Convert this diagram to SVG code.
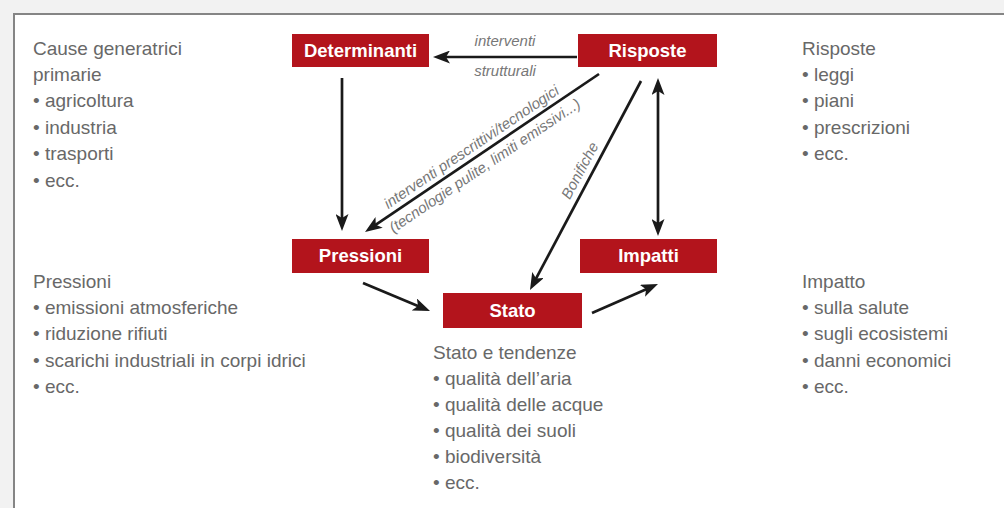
<svg xmlns="http://www.w3.org/2000/svg" width="1004" height="508" viewBox="0 0 1004 508">
<defs>
<style>
.box{fill:#b3141c}
.bl{font-family:"Liberation Sans",Arial,sans-serif;font-weight:bold;font-size:18.5px;fill:#fff;text-anchor:middle}
.tx{font-family:"Liberation Sans",Arial,sans-serif;font-size:19px;fill:#686868}
.lb{font-family:"Liberation Sans",Arial,sans-serif;font-style:italic;font-size:15px;fill:#777}
.ar{stroke:#1a1a1a;stroke-width:2.7;fill:none;marker-end:url(#ah)}
</style>
<marker id="ah" viewBox="0 0 17 13" refX="11" refY="6.5" markerWidth="17" markerHeight="13" markerUnits="userSpaceOnUse" orient="auto-start-reverse">
<path d="M0,0 L17,6.5 L0,13 L4,6.5 z" fill="#1a1a1a"/>
</marker>
</defs>
<rect x="0" y="0" width="1004" height="508" fill="#f2f2f2"/>
<rect x="14" y="14" width="1000" height="504" fill="#fff" stroke="#858585" stroke-width="2"/>

<g id="connectors">
<line class="ar" x1="577" y1="57" x2="439" y2="57"/>
<line class="ar" x1="342" y1="78" x2="342" y2="225"/>
<line class="ar" x1="599" y1="74" x2="370" y2="228.6"/>
<line class="ar" x1="641" y1="81" x2="532.8" y2="284.7"/>
<line class="ar" x1="658" y1="84" x2="658" y2="230" style="marker-start:url(#ah)"/>
<line class="ar" x1="363" y1="283" x2="424.5" y2="308.7"/>
<line class="ar" x1="592" y1="313" x2="652.5" y2="286.4"/>
<text class="lb" x="505" y="46" text-anchor="middle">interventi</text>
<text class="lb" x="505" y="76" text-anchor="middle">strutturali</text>
<g transform="translate(365,232) rotate(-34)">
<text class="lb" x="32" y="-6">interventi prescrittivi/tecnologici</text>
<text class="lb" x="23" y="17">(tecnologie pulite, limiti emissivi...)</text>
</g>
<g transform="translate(530,290) rotate(-62)">
<text class="lb" x="98" y="-7">Bonifiche</text>
</g>
</g>

<g id="determinanti">
<rect class="box" x="292" y="34" width="137" height="33"/>
<text class="bl" x="360.5" y="57">Determinanti</text>
</g>
<g id="risposte">
<rect class="box" x="578" y="34" width="139" height="33"/>
<text class="bl" x="647.5" y="57">Risposte</text>
</g>
<g id="pressioni">
<rect class="box" x="292" y="239" width="137" height="34"/>
<text class="bl" x="360.5" y="262">Pressioni</text>
</g>
<g id="impatti">
<rect class="box" x="580" y="239" width="137" height="34"/>
<text class="bl" x="648.5" y="262">Impatti</text>
</g>
<g id="stato">
<rect class="box" x="443" y="293" width="139" height="35"/>
<text class="bl" x="512.5" y="317">Stato</text>
</g>

<g id="cause-text">
<text class="tx" x="33" y="55">Cause generatrici</text>
<text class="tx" x="33" y="81">primarie</text>
<text class="tx" x="33" y="107">• agricoltura</text>
<text class="tx" x="33" y="134">• industria</text>
<text class="tx" x="33" y="160">• trasporti</text>
<text class="tx" x="33" y="187">• ecc.</text>
</g>
<g id="pressioni-text">
<text class="tx" x="33" y="288">Pressioni</text>
<text class="tx" x="33" y="314">• emissioni atmosferiche</text>
<text class="tx" x="33" y="340">• riduzione rifiuti</text>
<text class="tx" x="33" y="367">• scarichi industriali in corpi idrici</text>
<text class="tx" x="33" y="393">• ecc.</text>
</g>
<g id="risposte-text">
<text class="tx" x="802" y="55">Risposte</text>
<text class="tx" x="802" y="81">• leggi</text>
<text class="tx" x="802" y="107">• piani</text>
<text class="tx" x="802" y="134">• prescrizioni</text>
<text class="tx" x="802" y="160">• ecc.</text>
</g>
<g id="impatto-text">
<text class="tx" x="802" y="288">Impatto</text>
<text class="tx" x="802" y="314">• sulla salute</text>
<text class="tx" x="802" y="340">• sugli ecosistemi</text>
<text class="tx" x="802" y="367">• danni economici</text>
<text class="tx" x="802" y="393">• ecc.</text>
</g>
<g id="stato-text">
<text class="tx" x="433" y="359">Stato e tendenze</text>
<text class="tx" x="433" y="385">• qualità dell’aria</text>
<text class="tx" x="433" y="411">• qualità delle acque</text>
<text class="tx" x="433" y="437">• qualità dei suoli</text>
<text class="tx" x="433" y="463">• biodiversità</text>
<text class="tx" x="433" y="489">• ecc.</text>
</g>
</svg>
